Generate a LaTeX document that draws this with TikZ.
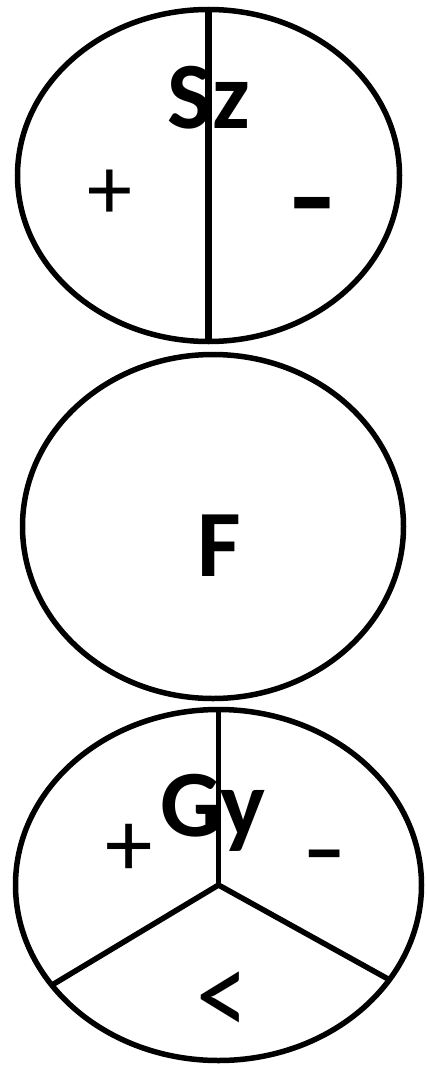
\documentclass[tikz,border=0pt]{standalone}
\usepackage{fontspec}
\setmainfont{Carlito}
\usetikzlibrary{shapes.geometric, calc}

\begin{document}
\begin{tikzpicture}[
    x=1pt, y=1pt,
    ring/.style={ellipse, draw, line width=5.5pt, inner sep=0pt, outer sep=0pt},
    title/.style={font=\fontsize{95}{95}\selectfont\bfseries, inner sep=0pt},
    sign/.style={font=\fontsize{#1}{#1}\selectfont, inner sep=0pt},
    divider/.style={line width=#1},
]
    \useasboundingbox (0,0) rectangle (426,-1065);

    % top: Sz, split in two
    \node[ring, minimum width=382pt, minimum height=332pt] (sz) at (208.5,-175.5) {};
    \draw[divider=7pt] (sz.north) -- ([yshift=-2pt]sz.south);
    \node[title] (szlabel) at (208.5,-98) {Sz};
    \node[sign=90] (szplus) at (110,-194.5) {+};
    \node[font=\fontsize{110}{110}\selectfont\bfseries, inner sep=0pt, xscale=1.3] (szminus) at (312,-216) {-};

    % middle: F
    \node[ring, minimum width=381pt, minimum height=344pt] (f) at (213,-526.5) {};
    \node[title] (flabel) at (219,-545.5) {F};

    % bottom: Gy, split in three
    \node[ring, minimum width=406pt, minimum height=351pt] (gy) at (218.5,-885) {};
    \draw[divider=5.5pt] (gy.north) -- (gy.center);
    \draw[divider=5.5pt] (gy.211.5) -- (gy.center) -- (gy.-29.8);
    \node[title] (gylabel) at (213,-812.5) {Gy};
    \node[sign=95] (gyplus) at (129,-850) {+};
    \node[sign=105, xscale=1.25] (gyminus) at (324.5,-867) {-};
    \node[sign=95, xscale=1.1, yscale=1.3] (gyless) at (223,-1004) {<};
\end{tikzpicture}
\end{document}
